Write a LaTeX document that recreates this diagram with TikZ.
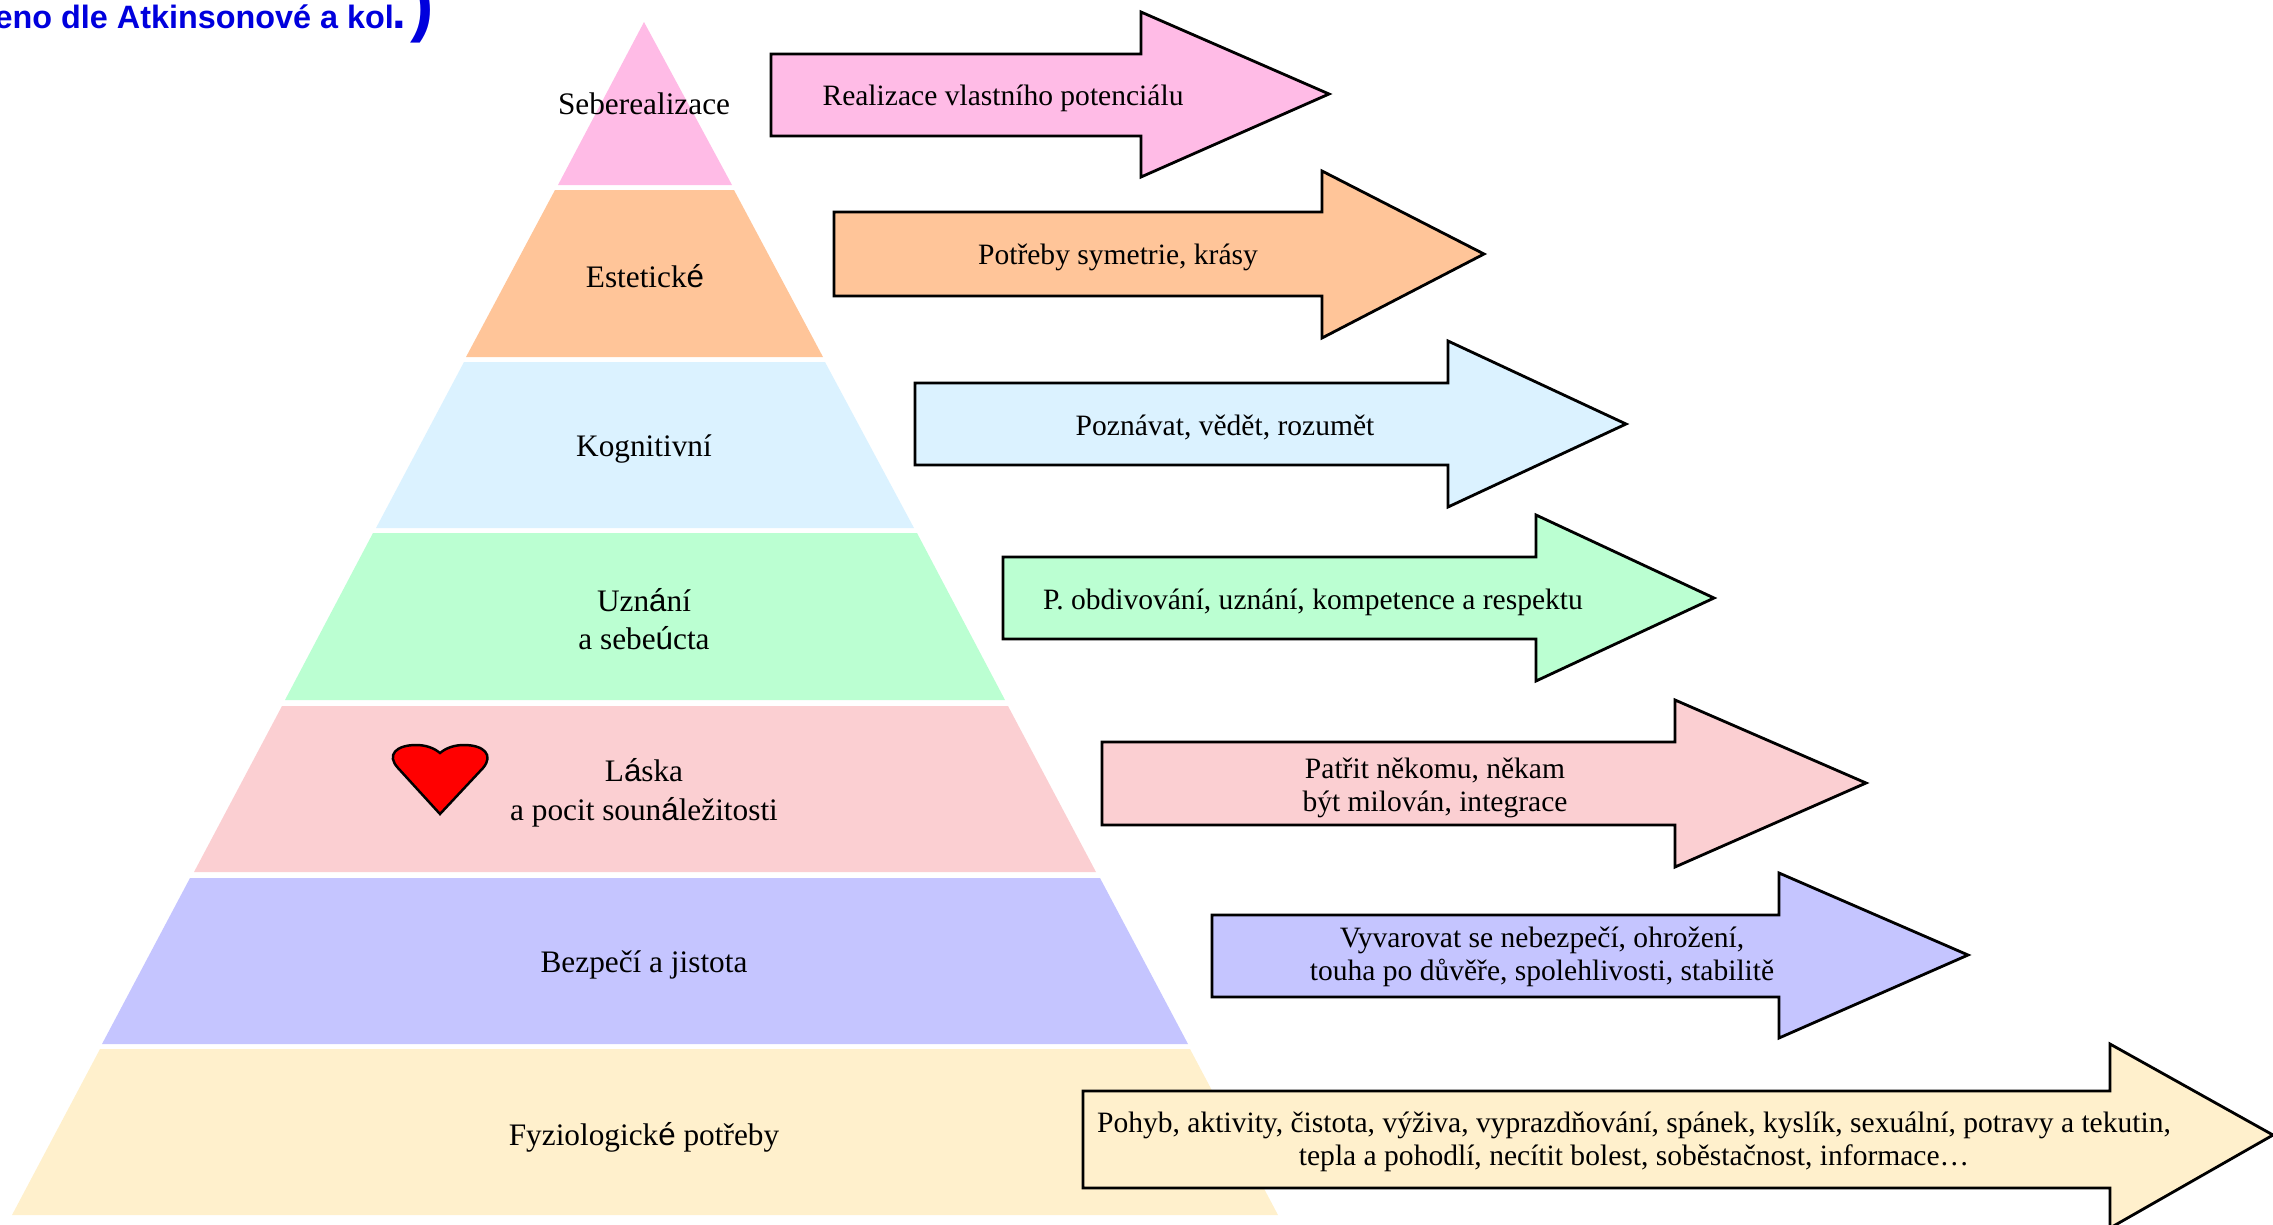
\documentclass[tikz,border=0pt]{standalone}
\usepackage{fontspec}
\setmainfont{Liberation Serif}
\newfontfamily\titlefont{Liberation Sans}
\newcommand{\sansglyph}[1]{{\titlefont #1}}
\usepackage{tikz}
\definecolor{tierpink}{HTML}{FFBBE6}
\definecolor{tierorange}{HTML}{FFC599}
\definecolor{tierblue}{HTML}{DBF2FF}
\definecolor{tiergreen}{HTML}{BBFFD2}
\definecolor{tierrose}{HTML}{FBCFD2}
\definecolor{tierviolet}{HTML}{C5C5FF}
\definecolor{tieryellow}{HTML}{FFF0CC}
\definecolor{titleblue}{HTML}{0000DD}
\begin{document}
\begin{tikzpicture}[x=0.01cm,y=-0.01cm]
  \useasboundingbox (0,0) rectangle (2273,1224);

  \tikzstyle{tier_label}=[align=center,font=\fontsize{8.9}{11}\selectfont,inner sep=0pt];
  \tikzstyle{need_label}=[align=center,font=\fontsize{8.4}{9.3}\selectfont,inner sep=0pt];
  \tikzstyle{need_arrow}=[draw=black,line width=0.8pt,line join=miter];
  \tikzstyle{title_text}=[anchor=base west,text=titleblue,inner sep=0pt];

  % pyramid
  \fill[tierpink] (644,22)--(732,185)--(558,185)--cycle;
  \fill[tierorange] (555,190)--(734,190)--(823,357)--(466,357)--cycle;
  \fill[tierblue] (464,362)--(825,362)--(914,528)--(376,528)--cycle;
  \fill[tiergreen] (373,533)--(917,533)--(1005,700)--(285,700)--cycle;
  \fill[tierrose] (282,706)--(1008,706)--(1096,872)--(194,872)--cycle;
  \fill[tierviolet] (190,878)--(1100,878)--(1188,1044)--(102,1044)--cycle;
  \fill[tieryellow] (100,1049)--(1190,1049)--(1278,1215)--(12,1215)--cycle;

  \node (self_label) at (644,104)[tier_label]{Seberealizace};
  \node (aesthetic_label) at (645,276)[tier_label]{Estetick\sansglyph{é}};
  \node (cognitive_label) at (644,449)[tier_label]{Kognitivní};
  \node (esteem_label) at (644,619)[tier_label]{Uzn\sansglyph{á}ní\\a sebe\sansglyph{ú}cta};
  \node (love_label) at (644,793)[tier_label]{L\sansglyph{á}ska\\a pocit soun\sansglyph{á}ležitosti};
  \node (safety_label) at (644,965)[tier_label]{Bezpečí a jistota};
  \node (body_label) at (644,1137)[tier_label]{Fyziologick\sansglyph{é} potřeby};

  \draw[fill=red,line width=0.7pt] (440,814)--(398,768)
    .. controls (386,755) and (396,745) .. (416,745)
    .. controls (426,745) and (434,748) .. (440,753)
    .. controls (446,748) and (454,745) .. (464,745)
    .. controls (484,745) and (494,755) .. (483,768)
    --cycle;

  % arrows
  \draw[need_arrow,fill=tierpink] (771,54)--(1141,54)--(1141,12)--(1329,94)--(1141,177)--(1141,136)--(771,136)--cycle;
  \draw[need_arrow,fill=tierorange] (834,212)--(1322,212)--(1322,171)--(1484,254)--(1322,338)--(1322,296)--(834,296)--cycle;
  \draw[need_arrow,fill=tierblue] (915,383)--(1448,383)--(1448,341)--(1626,424)--(1448,507)--(1448,465)--(915,465)--cycle;
  \draw[need_arrow,fill=tiergreen] (1003,557)--(1536,557)--(1536,515)--(1714,598)--(1536,681)--(1536,639)--(1003,639)--cycle;
  \draw[need_arrow,fill=tierrose] (1102,742)--(1675,742)--(1675,700)--(1866,783)--(1675,867)--(1675,825)--(1102,825)--cycle;
  \draw[need_arrow,fill=tierviolet] (1212,915)--(1779,915)--(1779,873)--(1968,955)--(1779,1038)--(1779,997)--(1212,997)--cycle;
  \draw[need_arrow,fill=tieryellow] (1083,1091)--(2110,1091)--(2110,1044)--(2273,1135)--(2110,1228)--(2110,1188)--(1083,1188)--cycle;

  \node (self_need) at (1003,98)[need_label]{Realizace vlastního potenciálu};
  \node (aesthetic_need) at (1118,257)[need_label]{Potřeby symetrie, krásy};
  \node (cognitive_need) at (1225,427)[need_label]{Poznávat, vědět, rozumět};
  \node (esteem_need) at (1313,602)[need_label]{P. obdivování, uznání, kompetence a respektu};
  \node (love_need) at (1435,788)[need_label]{Patřit někomu, někam\\být milován, integrace};
  \node (safety_need) at (1542,957)[need_label]{Vyvarovat se nebezpečí, ohrožení,\\touha po důvěře, spolehlivosti, stabilitě};
  \node (body_need) at (1634,1142)[need_label]{Pohyb, aktivity, čistota, výživa, vyprazdňování, spánek, kyslík, sexuální, potravy a tekutin,\\tepla a pohodlí, necítit bolest, soběstačnost, informace…};

  % title
  \node (title) at (-6,28)[title_text,font=\titlefont\bfseries\fontsize{9.2}{10}\selectfont]{eno dle Atkinsonové a kol};
  \node (title_dot) at (392,28)[title_text,font=\titlefont\bfseries\fontsize{14}{14}\selectfont]{.};
  \node (title_paren) at (410,28)[title_text,font=\titlefont\bfseries\fontsize{20}{20}\selectfont]{)};
\end{tikzpicture}
\end{document}
